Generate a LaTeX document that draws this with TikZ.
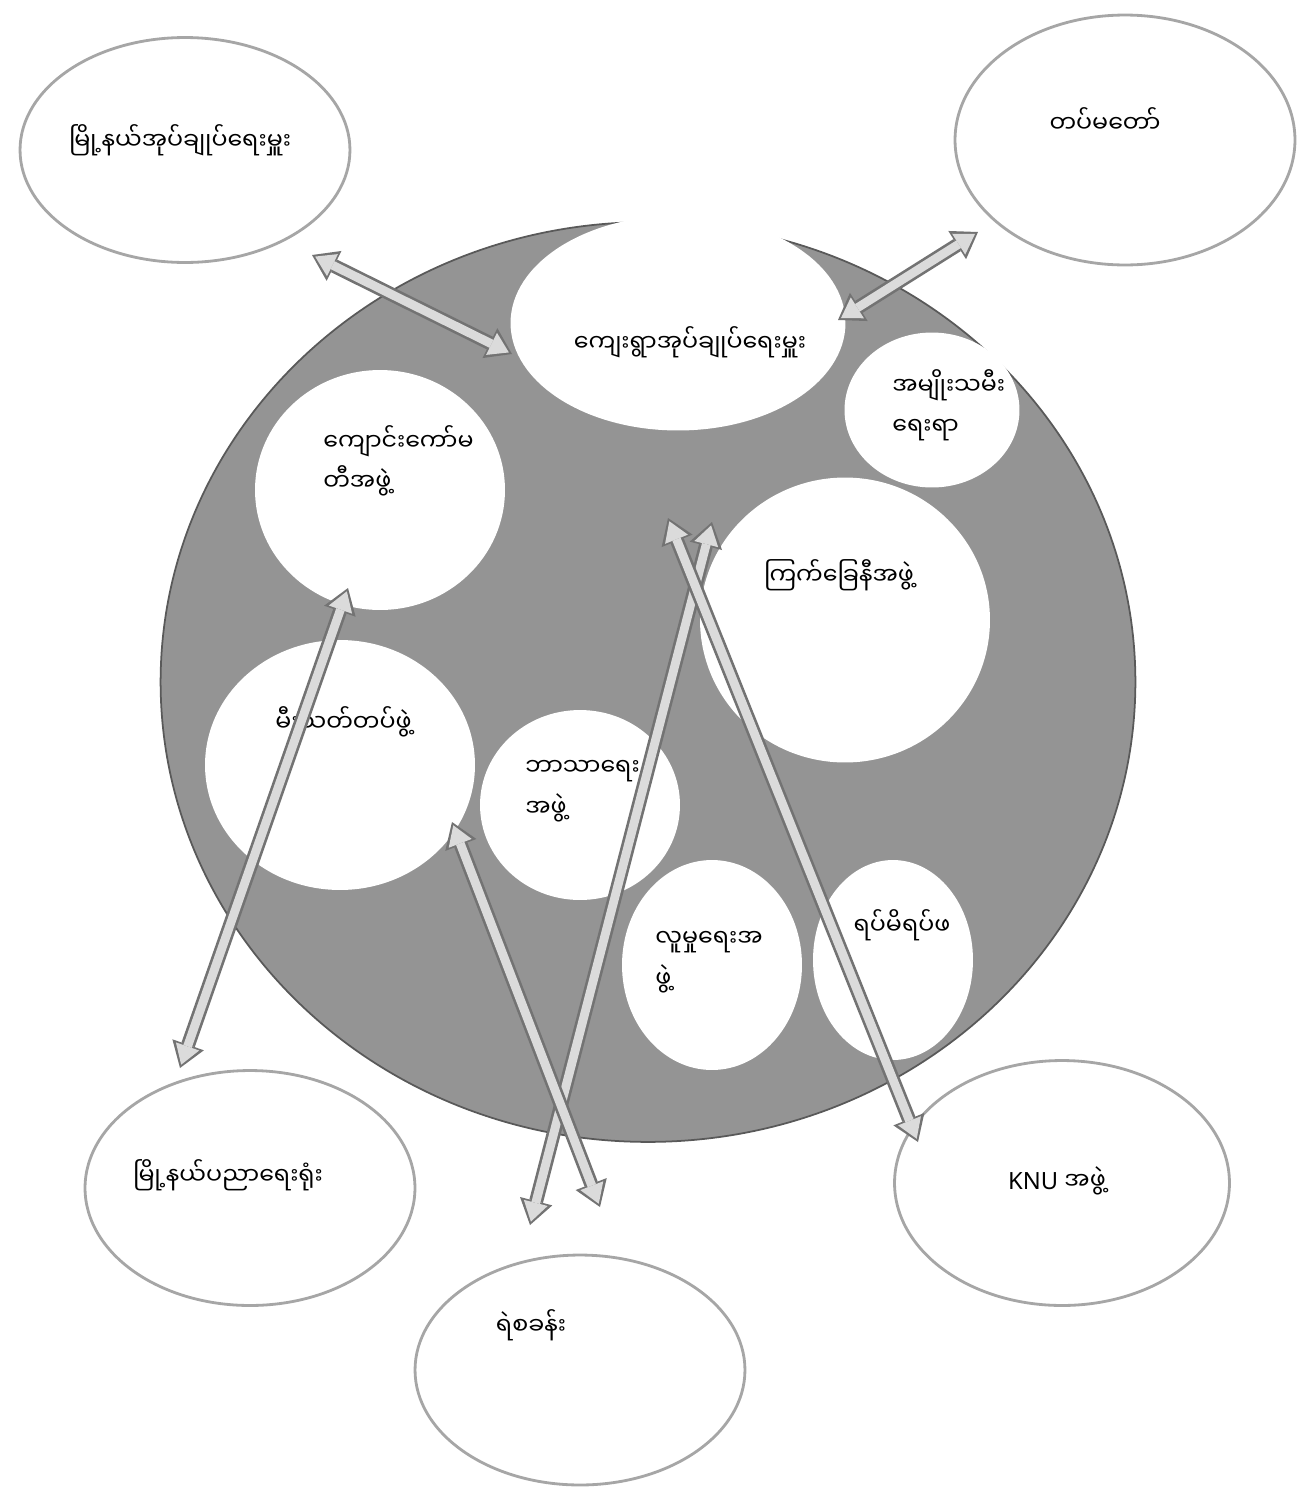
\documentclass[tikz,border=0pt]{standalone}
\usepackage{fontspec}
\setmainfont{Noto Sans}
\newfontfamily\myan[Script=Myanmar]{Noto Sans Myanmar UI}
\usetikzlibrary{shapes.geometric,arrows.meta}

\begin{document}
\begin{tikzpicture}[x=0.02cm,y=-0.02cm,
  font=\fontsize{13.5}{23}\selectfont\myan,
  outer/.style={ellipse,draw=black!35,line width=1.6pt,fill=white,inner sep=0pt},
  inner/.style={ellipse,fill=white,inner sep=0pt},
  lbl/.style={inner sep=0pt,align=left},
  twoway/.style={line width=8pt,draw=black!55,
    {Triangle[length=14pt,width=19pt,line width=0pt]}-{Triangle[length=14pt,width=19pt,line width=0pt]},
    postaction={draw=black!14,line width=5pt,shorten <=2pt,shorten >=2pt,
    {Triangle[length=11pt,width=14pt,line width=0pt]}-{Triangle[length=11pt,width=14pt,line width=0pt]}}}]

\useasboundingbox (0,0) rectangle (1306,1488);

%Cerchio grande

\node[ellipse,draw=black!65,fill=black!42,line width=1pt,
  minimum width=19.5cm,minimum height=18.4cm] (group) at (648,682) {};

%Cerchi esterni

\node[outer,minimum width=6.6cm,minimum height=4.5cm] (townadmin) at (185,150) {};
\node[outer,minimum width=6.8cm,minimum height=5.0cm] (army) at (1125,140) {};
\node[outer,minimum width=6.6cm,minimum height=4.7cm] (eduoffice) at (250,1188) {};
\node[outer,minimum width=6.6cm,minimum height=4.6cm] (police) at (580,1370) {};
\node[outer,minimum width=6.7cm,minimum height=4.9cm] (knu) at (1062,1183) {};

%Cerchi interni

\node[inner,minimum width=3.5cm,minimum height=3.1cm] (women) at (932,410) {};
\node[inner,minimum width=6.7cm,minimum height=4.3cm] (village) at (678,323) {};
\node[inner,minimum width=5.0cm,minimum height=4.8cm] (school) at (380,490) {};
\node[inner,minimum width=5.8cm,minimum height=5.7cm] (redcross) at (845,620) {};
\node[inner,minimum width=5.4cm,minimum height=5.0cm] (fire) at (340,765) {};
\node[inner,minimum width=4.0cm,minimum height=3.8cm] (religion) at (580,805) {};
\node[inner,minimum width=3.6cm,minimum height=4.2cm] (social) at (712,965) {};
\node[inner,minimum width=3.2cm,minimum height=4.0cm] (elders) at (893,960) {};

%Testi

\node[lbl] (townadmin-t) at (180,140) {မြို့နယ်အုပ်ချုပ်ရေးမှူး};
\node[lbl] (army-t) at (1105,120) {တပ်မတော်};
\node[lbl] (village-t) at (690,342) {ကျေးရွာအုပ်ချုပ်ရေးမှူး};
\node[lbl,anchor=west] (women-t) at (892,405) {အမျိုးသမီး\\ရေးရာ};
\node[lbl,anchor=west] (school-t) at (323,461) {ကျောင်းကော်မ\\တီအဖွဲ့};
\node[lbl] (redcross-t) at (839,575) {ကြက်ခြေနီအဖွဲ့};
\node[lbl,anchor=west] (fire-t) at (275,722) {မီးသတ်တပ်ဖွဲ့};
\node[lbl,anchor=west] (religion-t) at (525,791) {ဘာသာရေး\\အဖွဲ့};
\node[lbl,anchor=west] (social-t) at (655,962) {လူမှုရေးအ\\ဖွဲ့};
\node[lbl] (elders-t) at (902,925) {ရပ်မိရပ်ဖ};
\node[lbl] (eduoffice-t) at (228,1175) {မြို့နယ်ပညာရေးရုံး};
\node[lbl] (police-t) at (531,1325) {ရဲစခန်း};
\node[lbl] (knu-t) at (1057,1181) {\normalfont\fontsize{13.5}{23}\selectfont KNU {\myan အဖွဲ့}};

%Frecce

\coordinate (tv1) at (312,255);  \coordinate (tv2) at (512,354);
\coordinate (av1) at (978,232);  \coordinate (av2) at (838,320);
\coordinate (se1) at (348,588);  \coordinate (se2) at (180,1068);
\coordinate (vp1) at (712,522);  \coordinate (vp2) at (530,1225);
\coordinate (vk1) at (668,518);  \coordinate (vk2) at (918,1142);
\coordinate (fp1) at (452,822);  \coordinate (fp2) at (600,1207);

\draw[twoway] (tv1) -- (tv2);
\draw[twoway] (av1) -- (av2);
\draw[twoway] (se1) -- (se2);
\draw[twoway] (vp1) -- (vp2);
\draw[twoway] (vk1) -- (vk2);
\draw[twoway] (fp1) -- (fp2);

\end{tikzpicture}
\end{document}
